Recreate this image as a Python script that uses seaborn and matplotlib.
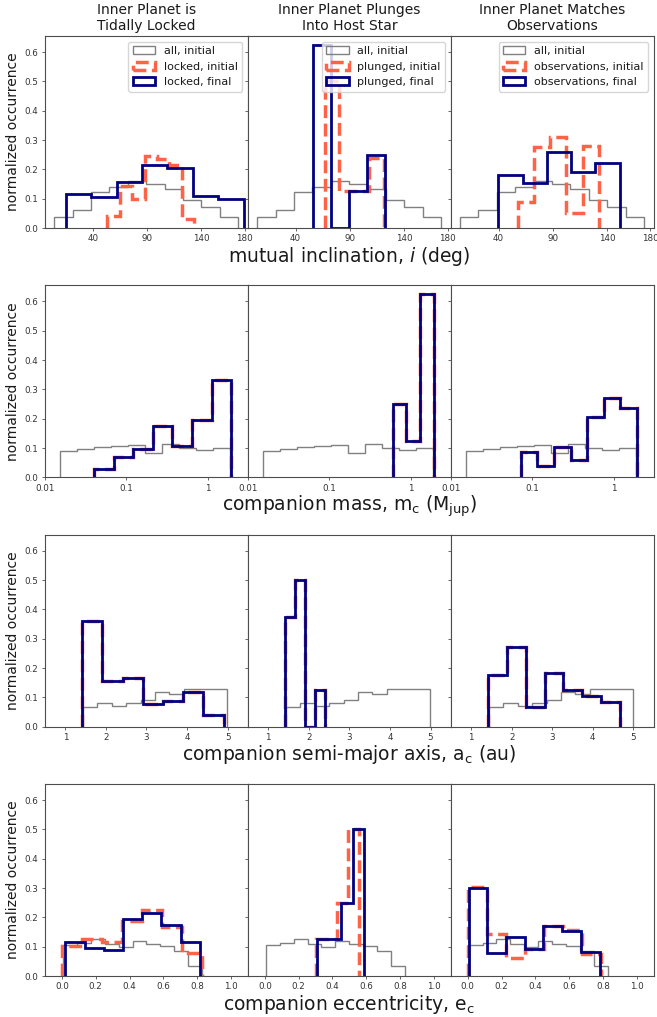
import numpy as np
import matplotlib
matplotlib.use("Agg")
import matplotlib.pyplot as plt
from matplotlib import ticker
import seaborn as sns

# ---------------------------------------------------------------------------
# Histogram data: bin edges and normalized occurrence (fraction per bin)
# ---------------------------------------------------------------------------
groups = ["locked", "plunged", "observations"]
titles = ["Inner Planet is\nTidally Locked",
          "Inner Planet Plunges\nInto Host Star",
          "Inner Planet Matches\nObservations"]

# mutual inclination (deg)
inc_all_edges = [4.5, 21.5, 38.4, 55.4, 72.3, 89.3, 106.2, 123.2, 140.1, 157.1, 174.0]
inc_all = [0.036, 0.063, 0.123, 0.141, 0.162, 0.150, 0.133, 0.097, 0.070, 0.037]
inc_locked_init_edges = [53.2, 64.7, 76.2, 87.7, 99.2, 110.7, 122.2, 133.7]
inc_locked_init = [0.040, 0.145, 0.098, 0.245, 0.235, 0.216, 0.032]
inc_locked_final_edges = [15.0, 38.4, 61.9, 85.3, 108.7, 132.1, 155.6, 179.0]
inc_locked_final = [0.117, 0.106, 0.157, 0.215, 0.206, 0.108, 0.098]
inc_plunged_init_edges = [66.6, 80.3, 94.0, 107.7, 121.4]
inc_plunged_init = [0.500, 0.125, 0.125, 0.240]
inc_plunged_final_edges = [55.6, 72.3, 89.0, 105.6, 122.3]
inc_plunged_final = [0.625, 0.0, 0.125, 0.250]
inc_obs_init_edges = [57.5, 72.5, 87.6, 102.6, 117.7, 132.7]
inc_obs_init = [0.088, 0.276, 0.310, 0.052, 0.280]
inc_obs_final_edges = [39.7, 62.1, 84.5, 106.9, 129.3, 151.7]
inc_obs_final = [0.181, 0.152, 0.258, 0.190, 0.223]

# companion mass (Mjup) -- unchanged by the evolution, so initial == final
mass_all_edges = [0.0153, 0.0247, 0.0401, 0.0649, 0.1050, 0.1698, 0.2754,
                  0.4457, 0.7211, 1.1695, 1.892]
mass_all = [0.091, 0.098, 0.105, 0.107, 0.110, 0.083, 0.114, 0.100, 0.093, 0.101]
mass_locked_edges = [0.0402, 0.0698, 0.1216, 0.2113, 0.3673, 0.6397, 1.112, 1.932]
mass_locked = [0.030, 0.068, 0.098, 0.175, 0.107, 0.194, 0.331]
mass_plunged_edges = [0.597, 0.883, 1.306, 1.932]
mass_plunged = [0.250, 0.125, 0.625]
mass_obs_edges = [0.0726, 0.1159, 0.1849, 0.2951, 0.4710, 0.7516, 1.1995, 1.914]
mass_obs = [0.086, 0.038, 0.103, 0.060, 0.205, 0.270, 0.238]

# companion semi-major axis (au) -- unchanged, so initial == final
sma_all_edges = [1.44, 1.79, 2.15, 2.50, 2.86, 3.21, 3.56, 3.92, 4.27, 4.63, 4.98]
sma_all = [0.066, 0.080, 0.071, 0.082, 0.090, 0.118, 0.111, 0.128, 0.128, 0.130]
sma_locked_edges = [1.41, 1.91, 2.41, 2.91, 3.40, 3.90, 4.40, 4.90]
sma_locked = [0.361, 0.155, 0.166, 0.076, 0.086, 0.118, 0.040]
sma_plunged_edges = [1.41, 1.66, 1.91, 2.16, 2.41]
sma_plunged = [0.375, 0.500, 0.0, 0.125]
sma_obs_edges = [1.42, 1.89, 2.35, 2.81, 3.27, 3.73, 4.19, 4.66]
sma_obs = [0.177, 0.272, 0.066, 0.184, 0.124, 0.103, 0.083]

# companion eccentricity
ecc_all_edges = [0.005, 0.088, 0.170, 0.253, 0.335, 0.418, 0.500, 0.583, 0.665, 0.748, 0.830]
ecc_all = [0.107, 0.113, 0.126, 0.109, 0.100, 0.119, 0.108, 0.102, 0.086, 0.034]
ecc_locked_init_edges = [0.000, 0.119, 0.237, 0.356, 0.474, 0.593, 0.712, 0.830]
ecc_locked_init = [0.104, 0.125, 0.115, 0.187, 0.224, 0.167, 0.078]
ecc_locked_final_edges = [0.020, 0.134, 0.247, 0.361, 0.475, 0.588, 0.702, 0.816]
ecc_locked_final = [0.117, 0.097, 0.088, 0.195, 0.215, 0.175, 0.117]
ecc_plunged_init_edges = [0.302, 0.365, 0.428, 0.492, 0.555]
ecc_plunged_init = [0.125, 0.125, 0.250, 0.500]
ecc_plunged_final_edges = [0.308, 0.378, 0.449, 0.519, 0.589]
ecc_plunged_final = [0.125, 0.125, 0.250, 0.500]
ecc_obs_init_edges = [0.000, 0.112, 0.225, 0.337, 0.449, 0.562, 0.674, 0.787]
ecc_obs_init = [0.304, 0.142, 0.061, 0.093, 0.170, 0.156, 0.074]
ecc_obs_final_edges = [0.006, 0.116, 0.227, 0.338, 0.448, 0.559, 0.669, 0.780]
ecc_obs_final = [0.300, 0.078, 0.132, 0.093, 0.170, 0.152, 0.081]

rows = [
    dict(all=(inc_all_edges, inc_all),
         init=[(inc_locked_init_edges, inc_locked_init),
               (inc_plunged_init_edges, inc_plunged_init),
               (inc_obs_init_edges, inc_obs_init)],
         final=[(inc_locked_final_edges, inc_locked_final),
                (inc_plunged_final_edges, inc_plunged_final),
                (inc_obs_final_edges, inc_obs_final)],
         xlabel=r"mutual inclination, $i$ (deg)",
         xlim=(-4, 183), xticks=[40, 90, 140, 180],
         xticklabels=["40", "90", "140", "180"], log=False),
    dict(all=(mass_all_edges, mass_all),
         init=[(mass_locked_edges, mass_locked),
               (mass_plunged_edges, mass_plunged),
               (mass_obs_edges, mass_obs)],
         final=[(mass_locked_edges, mass_locked),
                (mass_plunged_edges, mass_plunged),
                (mass_obs_edges, mass_obs)],
         xlabel=r"companion mass, $\mathrm{m_c}$ ($\mathrm{M_{jup}}$)",
         xlim=(0.01, 3.1), xticks=[0.01, 0.1, 1],
         xticklabels=["0.01", "0.1", "1"], log=True),
    dict(all=(sma_all_edges, sma_all),
         init=[(sma_locked_edges, sma_locked),
               (sma_plunged_edges, sma_plunged),
               (sma_obs_edges, sma_obs)],
         final=[(sma_locked_edges, sma_locked),
                (sma_plunged_edges, sma_plunged),
                (sma_obs_edges, sma_obs)],
         xlabel=r"companion semi-major axis, $\mathrm{a_c}$ (au)",
         xlim=(0.5, 5.5), xticks=[1, 2, 3, 4, 5],
         xticklabels=["1", "2", "3", "4", "5"], log=False),
    dict(all=(ecc_all_edges, ecc_all),
         init=[(ecc_locked_init_edges, ecc_locked_init),
               (ecc_plunged_init_edges, ecc_plunged_init),
               (ecc_obs_init_edges, ecc_obs_init)],
         final=[(ecc_locked_final_edges, ecc_locked_final),
                (ecc_plunged_final_edges, ecc_plunged_final),
                (ecc_obs_final_edges, ecc_obs_final)],
         xlabel=r"companion eccentricity, $\mathrm{e_c}$",
         xlim=(-0.1, 1.1), xticks=[0.0, 0.2, 0.4, 0.6, 0.8, 1.0],
         xticklabels=["0.0", "0.2", "0.4", "0.6", "0.8", "1.0"], log=False),
]

ALL_COLOR = "gray"
INIT_COLOR = "tomato"
FINAL_COLOR = "navy"

# ---------------------------------------------------------------------------
# Style
# ---------------------------------------------------------------------------
sns.set_style("ticks")
plt.rcParams.update({
    "font.family": ["DejaVu Sans"],
    "mathtext.fontset": "dejavusans",
    "axes.edgecolor": "#4d4d4d",
    "axes.linewidth": 0.8,
    "xtick.color": "#4d4d4d",
    "ytick.color": "#4d4d4d",
    "xtick.labelcolor": "#333333",
    "ytick.labelcolor": "#333333",
    "xtick.major.size": 2.5,
    "ytick.major.size": 2.5,
    "xtick.major.width": 0.6,
    "ytick.major.width": 0.6,
    "xtick.major.pad": 2.0,
    "ytick.major.pad": 2.5,
    "xtick.labelsize": 6.3,
    "ytick.labelsize": 6.3,
    "text.color": "#1a1a1a",
    "axes.labelcolor": "#1a1a1a",
})


def step_hist(ax, edges, heights, **kw):
    """Outline histogram from explicit bin edges and bin heights."""
    edges = np.asarray(edges, dtype=float)
    centers = 0.5 * (edges[:-1] + edges[1:])
    ax.hist(centers, bins=edges, weights=heights, histtype="step", **kw)


fig, axes = plt.subplots(4, 3, figsize=(6.57, 10.17), dpi=100,
                         sharey=True, sharex="row")
fig.subplots_adjust(left=0.0685, right=0.995, top=0.9646, bottom=0.0403,
                    wspace=0.0, hspace=0.2986)

for r, row in enumerate(rows):
    for c, group in enumerate(groups):
        ax = axes[r, c]
        if row["log"]:
            ax.set_xscale("log")
        step_hist(ax, *row["all"], color=ALL_COLOR, lw=1.0,
                  label="all, initial")
        step_hist(ax, *row["init"][c], color=INIT_COLOR, lw=2.5, ls="--",
                  label=f"{group}, initial")
        step_hist(ax, *row["final"][c], color=FINAL_COLOR, lw=2.0,
                  label=f"{group}, final")

        ax.set_xlim(*row["xlim"])
        ax.xaxis.set_major_locator(ticker.FixedLocator(row["xticks"]))
        ax.xaxis.set_major_formatter(ticker.FixedFormatter(row["xticklabels"]))
        ax.xaxis.set_minor_locator(ticker.NullLocator())
        ax.set_ylim(0, 0.655)
        ax.set_yticks([0.0, 0.1, 0.2, 0.3, 0.4, 0.5, 0.6])

        if c == 0:
            ax.set_ylabel("normalized occurrence", fontsize=10, labelpad=3)
        if c == 1:
            ax.set_xlabel(row["xlabel"], fontsize=13.5, labelpad=1)
        if r == 0:
            ax.set_title(titles[c], fontsize=10, pad=4)
            ax.legend(loc="upper right", fontsize=8)

fig.savefig("out.png", dpi=100)
